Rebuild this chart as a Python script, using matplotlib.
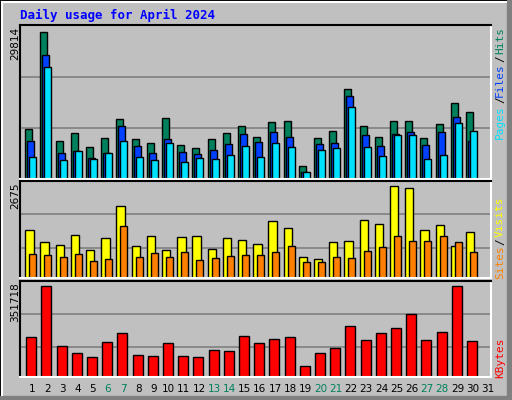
import matplotlib
matplotlib.use("Agg")
import matplotlib.pyplot as plt
from matplotlib.patches import Rectangle
from matplotlib.lines import Line2D
import numpy as np

days = list(range(1, 32))
hits = [10051, 29814, 7622, 9241, 6408, 8230, 12075, 8027, 7217, 12278, 6813, 6205, 8027, 9241, 10658, 8432,
        11467, 11669, 2698, 8230, 9646, 18346, 10658, 8432, 11669, 11669, 8230, 11062, 15510, 13486]
files = [7622, 25088, 5195, 5599, 4183, 5195, 10658, 6608, 5195, 8027, 5397, 4992, 5801, 7015, 9039, 7419,
         9444, 8432, 1484, 7015, 7217, 16728, 8837, 6608, 9039, 9444, 6813, 9444, 12480, 7622]
pages = [4387, 22660, 3777, 5599, 3982, 5195, 7622, 4387, 3777, 7217, 3372, 4183, 3982, 4792, 6608, 4387,
         7217, 6408, 1484, 5801, 6205, 14498, 6408, 4587, 8837, 8837, 3982, 4792, 11266, 9646]
visits = [1395, 1046, 959, 1250, 814, 1163, 2093, 930, 1221, 814, 1192, 1221, 843, 1163, 1105, 988,
          1657, 1454, 610, 552, 1046, 1076, 1686, 1570, 2675, 2617, 1395, 1541, 930, 1337]
sites = [698, 669, 610, 698, 494, 552, 1511, 610, 727, 610, 756, 523, 581, 640, 669, 669,
         756, 930, 465, 465, 610, 581, 785, 901, 1221, 1076, 1076, 1221, 1046, 756]
kbytes = [152701, 351718, 118040, 91080, 75675, 133445, 168108, 83378, 79527, 129594, 79527, 75675, 102632, 98781,
          156552, 129594, 144998, 152701, 40995, 91080, 110337, 195065, 141146, 168108, 187363, 241281, 141146, 171960, 351718, 137296]

GREEN = "#00805C"; BLUE = "#0040FF"; CYAN = "#00E0FF"
YELLOW = "#FFFF00"; ORANGE = "#FF8000"; RED = "#FF0000"; BG = "#C0C0C0"
W, H = 512, 400
fig = plt.figure(figsize=(W/100, H/100), dpi=100, facecolor=BG)

def fx(px): return px / W
def fy(py): return 1 - py / H

# outer frame
fig.patches.append(Rectangle((0, 0), 1, 1, transform=fig.transFigure, fill=False, ec="black", lw=2))
fig.add_artist(Line2D([fx(2), fx(2)], [fy(2), fy(395)], color="white", lw=1.5, transform=fig.transFigure))
fig.add_artist(Line2D([fx(2), fx(506)], [fy(2), fy(2)], color="white", lw=1.5, transform=fig.transFigure))
fig.patches.append(Rectangle((fx(507), 0), fx(5), 1, transform=fig.transFigure, color="#808080"))
fig.patches.append(Rectangle((0, 0), 1, fy(396), transform=fig.transFigure, color="#808080"))

mono = "DejaVu Sans Mono"
fig.text(fx(20), fy(15), "Daily usage for April 2024", color="#0000FF", family=mono,
         fontweight="bold", fontsize=9, va="center", ha="left")

x0, x1 = 20, 491
slot = (x1 - x0) / 31.0
def px2d(p): return p / slot

def make_ax(top, bot):
    ax = fig.add_axes([fx(x0), fy(bot), fx(x1 - x0), (bot - top) / H])
    ax.set_facecolor(BG)
    ax.set_xlim(0, 31)
    ax.set_xticks([])
    ax.set_yticks([])
    ax.spines["left"].set_color("black")
    ax.spines["top"].set_color("black")
    ax.spines["right"].set_color("white")
    ax.spines["bottom"].set_color("white")
    for s in ax.spines.values():
        s.set_linewidth(1.5)
    return ax

def grid(ax, fracs):
    for f in fracs:
        ax.axhline(f * ax.get_ylim()[1], color="#808080", lw=1.2, zorder=1)

idx = np.arange(30)
bw = px2d(7)

# top panel
ax1 = make_ax(25, 179)
ax1.set_ylim(0, max(hits) * 155 / 148)
grid(ax1, (0.33, 0.66))
ax1.bar(idx + px2d(5.3), hits, width=bw, align="edge", color=GREEN, ec="black", lw=1, zorder=2)
ax1.bar(idx + px2d(7.3), files, width=bw, align="edge", color=BLUE, ec="black", lw=1, zorder=2)
ax1.bar(idx + px2d(9.3), pages, width=bw, align="edge", color=CYAN, ec="black", lw=1, zorder=2)

# middle panel
ax2 = make_ax(181, 278)
ax2.set_ylim(0, max(visits) * 97 / 92)
grid(ax2, (0.31, 0.655))
ax2.bar(idx + px2d(5.3), visits, width=px2d(8.3), align="edge", color=YELLOW, ec="black", lw=1, zorder=2)
ax2.bar(idx + px2d(9.3), sites, width=bw, align="edge", color=ORANGE, ec="black", lw=1, zorder=2)

# bottom panel
ax3 = make_ax(281, 377)
ax3.set_ylim(0, max(kbytes) * 96 / 91.5)
grid(ax3, (0.31, 0.655))
ax3.bar(idx + px2d(6.3), kbytes, width=px2d(10), align="edge", color=RED, ec="black", lw=1, zorder=2)

# x labels
weekend = {6, 7, 13, 14, 20, 21, 27, 28}
for d in days:
    xc = x0 + (d - 1) * slot + 12
    fig.text(fx(xc), fy(389), str(d), ha="center", va="center", fontsize=7.5,
             color=GREEN if d in weekend else "black", family="DejaVu Sans")

# left max labels
for txt, ytop in (("29814", 27), ("2675", 182), ("351718", 282)):
    fig.text(fx(15), fy(ytop), txt, rotation=90, ha="center", va="top", fontsize=7.5, family="DejaVu Sans")

# right labels
def rlabel(t, yc, c):
    fig.text(fx(500), fy(yc), t, rotation=90, ha="center", va="center", fontsize=8, family=mono, color=c)
rlabel("Hits", 40, GREEN); rlabel("/", 59, "black"); rlabel("Files", 80, BLUE)
rlabel("/", 100, "black"); rlabel("Pages", 122, CYAN)
rlabel("Visits", 217, YELLOW); rlabel("/", 242, "black"); rlabel("Sites", 262, ORANGE)
rlabel("KBytes", 358, RED)

fig.savefig("out.png", dpi=100, facecolor=BG)
